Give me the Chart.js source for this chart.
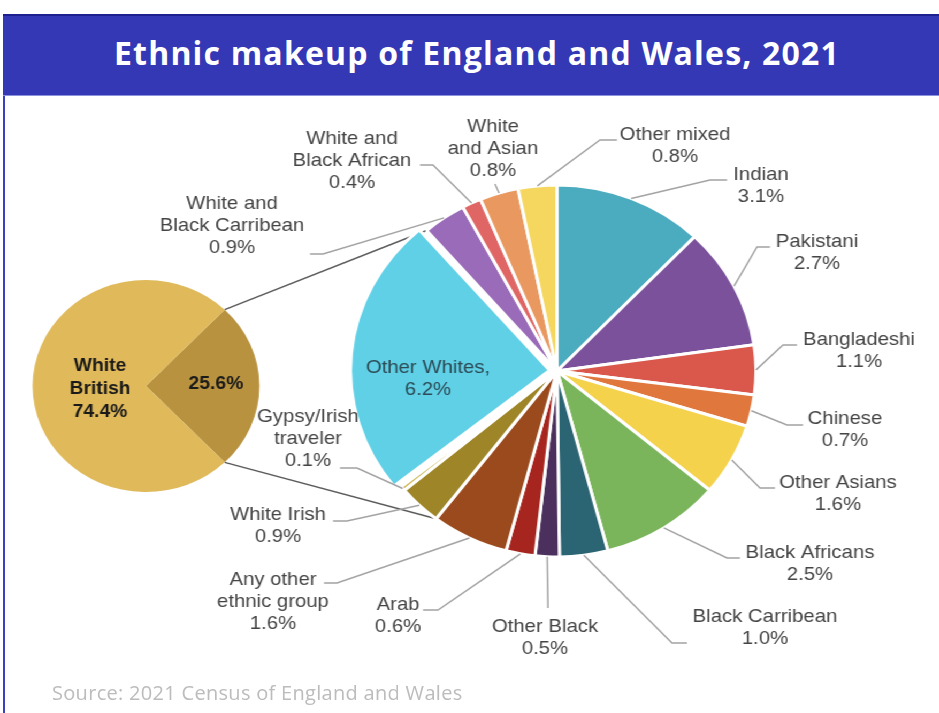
<!DOCTYPE html>
<html>
<head>
<meta charset="utf-8">
<script src="https://cdn.jsdelivr.net/npm/chart.js@4.4.1/dist/chart.umd.min.js"></script>
<style>
  html, body { margin: 0; padding: 0; background: #fff; }
  body { width: 939px; height: 713px; position: relative; overflow: hidden; }
  #frame { position: absolute; left: 3px; top: 14px; width: 940px; height: 710px; border-left: 2px solid #3b40c2; }
  #title { position: absolute; left: 3px; top: 14px; width: 938px; height: 82px; box-sizing: border-box;
           background: #3438b4; border-top: 2px solid #1d2190; border-bottom: 1px solid #8d92de;
           color: #fff; font: 700 32px "Open Sans", sans-serif; letter-spacing: 1.2px; text-align: center; line-height: 74px; padding-left: 10px; }
  #stage { position: absolute; left: 0; top: 0; width: 878px; height: 713px; transform: scaleX(1.07); transform-origin: 0 0; }
  #stage canvas { position: absolute; left: 0; top: 0; }
  #source { position: absolute; left: 52px; top: 679px; color: #bcbcbc; font: 20px "Open Sans", sans-serif; letter-spacing: 0.3px; }
</style>
</head>
<body>
<div id="frame"></div>
<div id="title">Ethnic makeup of England and Wales, 2021</div>
<div id="stage">
  <canvas id="leftPie" width="878" height="713"></canvas>
  <canvas id="rightPie" width="878" height="713"></canvas>
</div>
<div id="source">Source: 2021 Census of England and Wales</div>
<script>
// --- data ---
var mainLabels = ['Other groups', 'White British'];
var mainValues = [25.6, 74.4];
var mainColors = ['#b8923f', '#dfb95a'];

var groupLabels = ['Indian', 'Pakistani', 'Bangladeshi', 'Chinese', 'Other Asians', 'Black Africans',
  'Black Carribean', 'Other Black', 'Arab', 'Any other ethnic group', 'White Irish', 'Gypsy/Irish traveler',
  'Other Whites', 'White and Black Carribean', 'White and Black African', 'White and Asian', 'Other mixed'];
var groupValues = [3.1, 2.7, 1.1, 0.7, 1.6, 2.5, 1.0, 0.5, 0.6, 1.6, 0.9, 0.1, 6.2, 0.9, 0.4, 0.8, 0.8];
var groupColors = ['#4bacc0', '#7b519c', '#d9574b', '#e0773c', '#f5d24c', '#7ab55c',
  '#2b6472', '#4b2f5c', '#a6261f', '#9a4a1d', '#9e8527', '#c9b24a',
  '#5fd0e6', '#9a6bb8', '#e06666', '#e9985f', '#f5d760'];

// --- layout (page pixels, stage is stretched by SX) ---
var SX = 1.07;
function X(px) { return px / SX; }
var LINE_H = 22;
// text lines shown for each slice, value appended
var labelLayout = [
  { lines: ['Indian'], x: 761, y: 175, path: [[710, 180], [727, 180]] },
  { lines: ['Pakistani'], x: 817, y: 242, path: [[757, 247], [770, 247]] },
  { lines: ['Bangladeshi'], x: 859, y: 340, path: [[783, 345], [797, 345]] },
  { lines: ['Chinese'], x: 845, y: 419, path: [[787, 425], [803, 425]] },
  { lines: ['Other Asians'], x: 838, y: 483, path: [[760, 488], [775, 488]] },
  { lines: ['Black Africans'], x: 810, y: 553, path: [[727, 558], [740, 558]] },
  { lines: ['Black Carribean'], x: 765, y: 617, path: [[672, 643], [687, 643]] },
  { lines: ['Other Black'], x: 545, y: 627, path: [[548, 608]] },
  { lines: ['Arab'], x: 398, y: 605, path: [[438, 610], [423, 610]] },
  { lines: ['Any other', 'ethnic group'], x: 273, y: 580, path: [[337, 583], [324, 583]] },
  { lines: ['White Irish'], x: 278, y: 515, path: [[347, 521], [333, 521]] },
  { lines: ['Gypsy/Irish', 'traveler'], x: 308, y: 417, path: [[357, 468], [340, 468]] },
  { lines: ['Other Whites,'], x: 428, y: 368, inside: true },
  { lines: ['White and', 'Black Carribean'], x: 232, y: 204, path: [[323, 254], [310, 254]] },
  { lines: ['White and', 'Black African'], x: 352, y: 139, path: [[433, 165], [420, 165]] },
  { lines: ['White', 'and Asian'], x: 493, y: 127, path: [[495, 184]] },
  { lines: ['Other mixed'], x: 675, y: 135, path: [[600, 140], [617, 140]] }
];

function edgePoint(arc, angle) {
  return [arc.x + Math.cos(angle) * arc.outerRadius, arc.y + Math.sin(angle) * arc.outerRadius];
}

// small pie (White British vs the rest)
var leftLabelsPlugin = {
  id: 'leftLabels',
  afterDatasetsDraw: function (chart) {
    var ctx = chart.ctx;
    ctx.save();
    ctx.fillStyle = '#1a1a1a';
    ctx.font = 'bold 18px "Liberation Sans", Arial, sans-serif';
    ctx.textAlign = 'center';
    ctx.textBaseline = 'middle';
    ['White', 'British', mainValues[1].toFixed(1) + '%'].forEach(function (t, i) {
      ctx.fillText(t, X(100), 366 + i * 23);
    });
    ctx.fillText(mainValues[0].toFixed(1) + '%', X(216), 384);
    ctx.restore();
  }
};

var leftChart = new Chart(document.getElementById('leftPie'), {
  type: 'pie',
  data: {
    labels: mainLabels,
    datasets: [{ data: mainValues, backgroundColor: mainColors, borderWidth: 0 }]
  },
  options: {
    responsive: false,
    animation: false,
    events: [],
    radius: 106,
    rotation: 90 - mainValues[0] / (mainValues[0] + mainValues[1]) * 180,
    layout: { padding: { left: 0, right: 878 - 2 * X(146), top: 2 * 386 - 713, bottom: 0 } },
    plugins: { legend: { display: false }, tooltip: { enabled: false } }
  },
  plugins: [leftLabelsPlugin]
});

var rightPlugin = {
  id: 'rightLabels',
  beforeDatasetsDraw: function (chart) {
    // connector lines from the small pie to the breakdown
    var ctx = chart.ctx;
    var l = leftChart.getDatasetMeta(0).data[0];
    var arcs = chart.getDatasetMeta(0).data;
    var p1 = edgePoint(l, l.startAngle), p2 = edgePoint(l, l.endAngle);
    var q1 = edgePoint(arcs[13], arcs[13].startAngle), q2 = edgePoint(arcs[9], arcs[9].endAngle);
    ctx.save();
    ctx.strokeStyle = '#5a5a5a';
    ctx.lineWidth = 1.5;
    ctx.beginPath();
    ctx.moveTo(p1[0], p1[1]); ctx.lineTo(q1[0], q1[1]);
    ctx.moveTo(p2[0], p2[1]); ctx.lineTo(q2[0], q2[1]);
    ctx.stroke();
    ctx.restore();
  },
  afterDatasetsDraw: function (chart) {
    var ctx = chart.ctx;
    var arcs = chart.getDatasetMeta(0).data;
    ctx.save();
    ctx.textAlign = 'center';
    ctx.textBaseline = 'middle';
    ctx.font = '19px "Liberation Sans", Arial, sans-serif';
    labelLayout.forEach(function (lab, i) {
      var arc = arcs[i];
      var lines = lab.lines.concat([groupValues[i].toFixed(1) + '%']);
      if (lab.inside) {
        ctx.fillStyle = '#2d4a55';
      } else {
        var mid = (arc.startAngle + arc.endAngle) / 2;
        var s = edgePoint(arc, mid);
        ctx.strokeStyle = '#a3a3a3';
        ctx.lineWidth = 1.5;
        ctx.beginPath();
        ctx.moveTo(s[0], s[1]);
        lab.path.forEach(function (p) { ctx.lineTo(X(p[0]), p[1]); });
        ctx.stroke();
        ctx.fillStyle = '#454545';
      }
      lines.forEach(function (t, k) {
        ctx.fillText(t, X(lab.x), lab.y + k * LINE_H);
      });
    });
    ctx.restore();
  }
};

var rightChart = new Chart(document.getElementById('rightPie'), {
  type: 'pie',
  data: {
    labels: groupLabels,
    datasets: [{
      data: groupValues,
      backgroundColor: groupColors,
      borderColor: '#ffffff',
      borderWidth: 3,
      offset: groupLabels.map(function (g) { return g === 'Other Whites' ? 28 : 0; })
    }]
  },
  options: {
    responsive: false,
    animation: false,
    events: [],
    radius: 186,
    rotation: 0,
    layout: { padding: { left: 2 * X(557) - 878, right: 0, top: 2 * 371 - 713, bottom: 0 } },
    plugins: { legend: { display: false }, tooltip: { enabled: false } }
  },
  plugins: [rightPlugin]
});
</script>
</body>
</html>
